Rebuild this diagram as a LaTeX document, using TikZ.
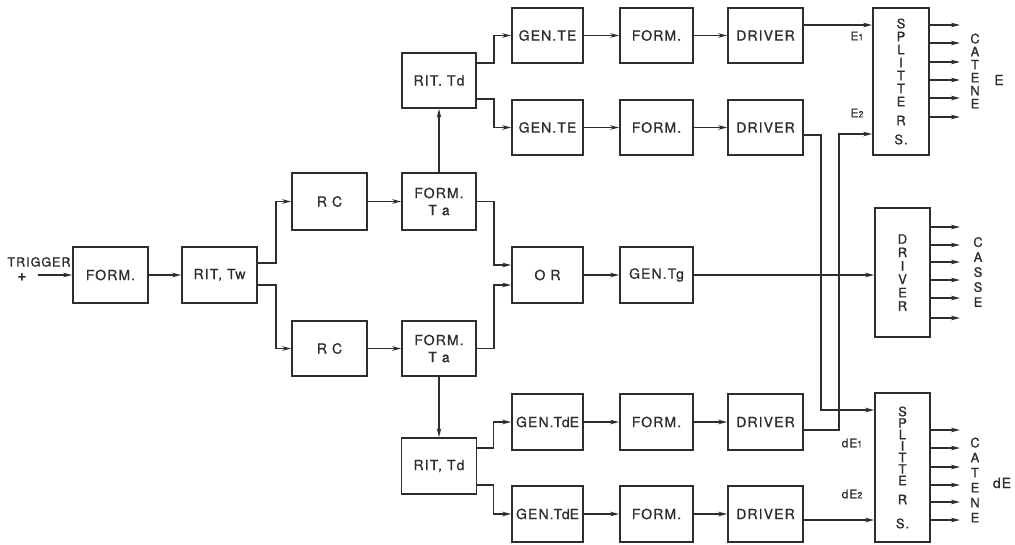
\documentclass[tikz,border=0pt]{standalone}
\usepackage{fontspec}
\setmainfont[LetterSpace=8,FakeBold=0.9]{TeX Gyre Heros}
\usetikzlibrary{arrows.meta}
\definecolor{ink}{RGB}{45,45,45}
\begin{document}
\begin{tikzpicture}[x=1pt,y=-1pt,line width=1.6pt,draw=ink,text=ink,
  box/.style={draw=ink,fill=none,inner sep=0pt,align=center,font=\fontsize{14}{17}\selectfont},
  lbl/.style={inner sep=0pt,align=center,font=\fontsize{13}{13}\selectfont},
  arr/.style={-{Stealth[length=9pt,width=4.5pt]}}]
\useasboundingbox[fill=white] (0,0) rectangle (1015,544);
% left chain
\node[lbl,font=\fontsize{12.5}{13}\selectfont] (trig) at (39,262) {TRIGGER};
\node[lbl,font=\fontsize{15}{15}\selectfont\bfseries] (plus) at (22,277) {+};
\coordinate (tin) at (38,275);
\node[box,minimum width=75pt,minimum height=56pt] (form0) at (110.5,275) {FORM.};
\node[box,minimum width=75pt,minimum height=56pt] (ritw) at (219.5,275) {RIT, Tw};
% upper branch
\node[box,minimum width=75pt,minimum height=57pt] (rc1) at (329.5,201.5) {R C};
\node[box,minimum width=74pt,minimum height=57pt] (fta1) at (439,201.5) {FORM.\\T a};
\node[box,minimum width=74pt,minimum height=55pt] (rtd1) at (439,80.5) {RIT. Td};
% lower branch
\node[box,minimum width=75pt,minimum height=55pt] (rc2) at (329.5,348.5) {R C};
\node[box,minimum width=74pt,minimum height=55pt] (fta2) at (439,348.5) {FORM.\\T a};
\node[box,minimum width=75pt,minimum height=56pt] (rtd2) at (439,466) {RIT, Td};
% rows
\node[box,minimum width=71pt,minimum height=55pt] (ge1) at (547.5,35.5) {GEN.TE};
\node[box,minimum width=73pt,minimum height=55pt] (f1) at (656.5,35.5) {FORM.};
\node[box,minimum width=75pt,minimum height=55pt] (d1) at (765.5,35.5) {DRIVER};
\node[box,minimum width=71pt,minimum height=55pt] (ge2) at (547.5,127.5) {GEN.TE};
\node[box,minimum width=73pt,minimum height=55pt] (f2) at (656.5,127.5) {FORM.};
\node[box,minimum width=75pt,minimum height=55pt] (d2) at (765.5,127.5) {DRIVER};
\node[box,minimum width=71pt,minimum height=56pt] (or) at (547.5,275) {O R};
\node[box,minimum width=73pt,minimum height=56pt] (gtg) at (656.5,275) {GEN.Tg};
\node[box,minimum width=71pt,minimum height=56pt] (gd1) at (547.5,422) {GEN.{\addfontfeatures{LetterSpace=-2}Td}E};
\node[box,minimum width=73pt,minimum height=56pt] (f3) at (656.5,422) {FORM.};
\node[box,minimum width=75pt,minimum height=56pt] (d3) at (765.5,422) {DRIVER};
\node[box,minimum width=71pt,minimum height=56pt] (gd2) at (547.5,514) {GEN.{\addfontfeatures{LetterSpace=-2}Td}E};
\node[box,minimum width=73pt,minimum height=56pt] (f4) at (656.5,514) {FORM.};
\node[box,minimum width=75pt,minimum height=56pt] (d4) at (765.5,514) {DRIVER};
% right blocks
\node[box,minimum width=56pt,minimum height=147pt,font=\fontsize{13}{13}\selectfont] (spl1) at (901,81.5) {S\\P\\L\\I\\T\\T\\E\\[6pt]R\\[6pt]S.};
\node[box,minimum width=55pt,minimum height=129pt,font=\fontsize{13}{13.4}\selectfont] (drvc) at (902.5,272.5) {D\\R\\I\\V\\E\\R};
\node[box,minimum width=55pt,minimum height=149pt,font=\fontsize{13}{11.5}\selectfont] (spl2) at (902.5,467.5) {S\\P\\L\\I\\T\\T\\E\\[7.5pt]R\\[12.5pt]S.};
% side labels
\node[lbl] (cat1) at (975,71) {C\\A\\T\\E\\N\\E};
\node[lbl,font=\fontsize{14}{14}\selectfont] (le) at (999,80) {E};
\node[lbl,font=\fontsize{13}{15}\selectfont] (cas) at (978,272) {C\\A\\S\\S\\E};
\node[lbl,font=\fontsize{13}{15}\selectfont] (cat2) at (975,480) {C\\A\\T\\E\\N\\E};
\node[lbl,font=\fontsize{14}{14}\selectfont] (lde) at (1002,483) {dE};
\node[lbl,font=\fontsize{12}{12}\selectfont] (e1) at (857,36) {E{\fontsize{9}{9}\selectfont 1}};
\node[lbl,font=\fontsize{12}{12}\selectfont] (e2) at (857,113) {E{\fontsize{9}{9}\selectfont 2}};
\node[lbl,font=\fontsize{12}{12}\selectfont] (de1) at (852,443) {dE{\fontsize{9}{9}\selectfont 1}};
\node[lbl,font=\fontsize{12}{12}\selectfont] (de2) at (852,494) {dE{\fontsize{9}{9}\selectfont 2}};
% connectors
\draw[arr] (tin) -- (form0);
\draw[arr] (form0) -- (ritw);
\draw[arr] ([yshift=12pt]ritw.east) -- ++(18,0) |- (rc1.west);
\draw[arr] ([yshift=-10pt]ritw.east) -- ++(18,0) |- (rc2.west);
\draw[arr] (rc1) -- (fta1);
\draw[arr] (rc2) -- (fta2);
\draw[arr] (fta1.north) -- (rtd1.south);
\draw[arr] (fta2.south) -- (rtd2.north);
\draw[arr] ([yshift=17.5pt]rtd1.east) -- ++(17,0) |- (ge1.west);
\draw[arr] ([yshift=-18.5pt]rtd1.east) -- ++(17,0) |- (ge2.west);
\draw[arr] ([yshift=18pt]rtd2.east) -- ++(16,0) |- (gd1.west);
\draw[arr] ([yshift=-19pt]rtd2.east) -- ++(16,0) |- (gd2.west);
\draw[arr] (fta1.east) -- ++(17,0) |- ([yshift=10pt]or.west);
\draw[arr] (fta2.east) -- ++(17,0) |- ([yshift=-10pt]or.west);
\draw[arr] (or) -- (gtg);
\draw[arr] (gtg.east) -- (gtg.east -| drvc.west);
\foreach \a/\b/\c in {ge1/f1/d1,ge2/f2/d2,gd1/f3/d3,gd2/f4/d4}{
  \draw[arr] (\a) -- (\b);
  \draw[arr] (\b) -- (\c);
}
\draw[arr] ([yshift=10.5pt]d1.east) -- ([yshift=10.5pt]d1.east -| spl1.west);
\draw[arr] ([yshift=-7.5pt]d2.east) -- ++(17,0) |- ([yshift=57.5pt]spl2.west);
\draw[arr] ([yshift=-8pt]d3.east) -- ++(35,0) |- ([yshift=-52.5pt]spl1.west);
\draw[arr] ([yshift=-6pt]d4.east) -- ([yshift=-6pt]d4.east -| spl2.west);
\foreach \y in {25,43,62,80,98,117} \draw[arr] (spl1.east |- 0,\y) -- (960,\y);
\foreach \y in {227,245,262,280,298,318} \draw[arr] (drvc.east |- 0,\y) -- (960,\y);
\foreach \y in {430,448,467,485,502,520} \draw[arr] (spl2.east |- 0,\y) -- (960,\y);
\end{tikzpicture}
\end{document}
